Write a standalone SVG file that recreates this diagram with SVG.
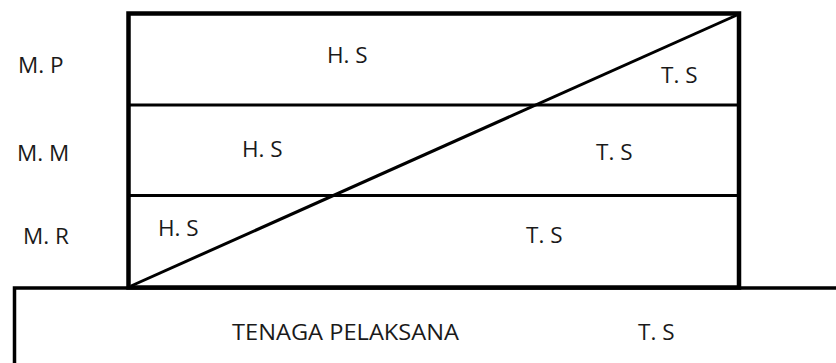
<svg xmlns="http://www.w3.org/2000/svg" width="836" height="363" viewBox="0 0 836 363">
  <style>
    .frame { fill: none; stroke: #000; stroke-width: 4.5; }
    .rule { fill: none; stroke: #000; stroke-width: 3; }
    .base { fill: #fff; stroke: #000; stroke-width: 3.5; }
    .lbl { font-family: "Open Sans", "Liberation Sans", sans-serif; font-size: 22.5px; fill: #1a1a1a; }
  </style>
  <rect width="836" height="363" fill="#fff"/>

  <!-- base block -->
  <g id="base">
    <rect class="base" x="14.5" y="288" width="840" height="100"/>
    <text class="lbl" x="232" y="340" textLength="227" lengthAdjust="spacingAndGlyphs">TENAGA PELAKSANA</text>
    <text class="lbl" x="638" y="340">T. S</text>
  </g>

  <!-- side level labels -->
  <g id="levels">
    <text class="lbl" x="18" y="73">M. P</text>
    <text class="lbl" x="17" y="161">M. M</text>
    <text class="lbl" x="23" y="244">M. R</text>
  </g>

  <!-- stacked frame with dividers and diagonal -->
  <g id="frame">
    <line class="rule" x1="129" y1="105" x2="739" y2="105"/>
    <line class="rule" x1="129" y1="195.5" x2="739" y2="195.5"/>
    <line class="rule" x1="131" y1="286" x2="737" y2="15"/>
    <rect class="frame" x="128.5" y="13.5" width="610.5" height="274"/>
  </g>

  <g id="row-mp">
    <text class="lbl" x="327" y="63">H. S</text>
    <text class="lbl" x="661" y="83">T. S</text>
  </g>
  <g id="row-mm">
    <text class="lbl" x="242" y="157">H. S</text>
    <text class="lbl" x="596" y="160">T. S</text>
  </g>
  <g id="row-mr">
    <text class="lbl" x="158" y="236">H. S</text>
    <text class="lbl" x="526" y="243">T. S</text>
  </g>
</svg>
